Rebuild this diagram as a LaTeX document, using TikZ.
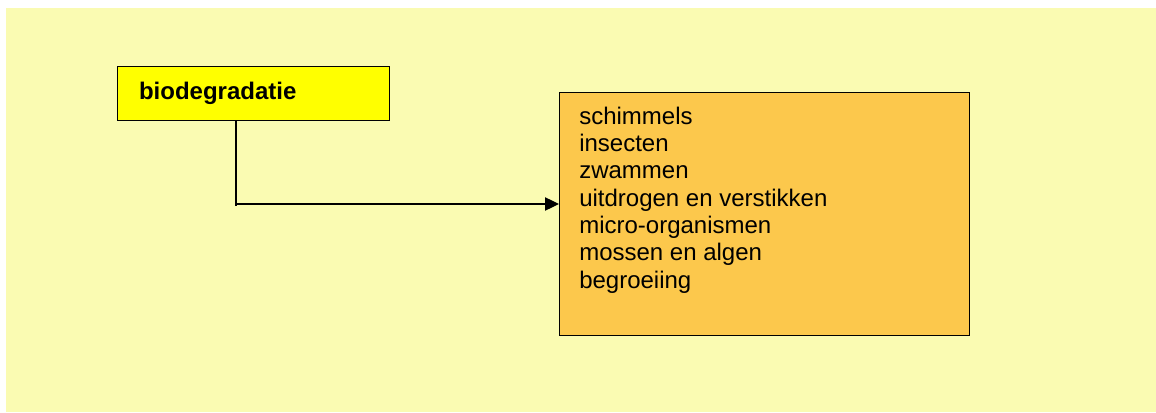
\documentclass[tikz,border=0pt]{standalone}
\usepackage{fontspec}
\setmainfont{Liberation Sans}
\usepackage{xcolor}
\usetikzlibrary{arrows.meta,positioning,calc}

\definecolor{achtergrond}{RGB}{250,251,178}
\definecolor{geel}{RGB}{255,255,0}
\definecolor{oranje}{RGB}{252,200,76}

\begin{document}
\begin{tikzpicture}[x=0.75pt,y=-0.75pt]
  \tikzstyle{vak}=[rectangle, draw, line width=1.1pt, inner sep=0pt]
  \tikzstyle{pijl}=[line width=0.9pt, -{Triangle[length=10.5pt,width=10pt]}]
  \tikzstyle{tekst}=[font=\fontsize{18}{20.5}\selectfont]

  % Afmetingen van de afbeelding
  \useasboundingbox (0,0) rectangle (1156,413);
  \fill[achtergrond] (6,8) rectangle (1156,412);

  % Oorzaak
  \node[vak, fill=geel, anchor=north west, minimum width=204pt, minimum height=40.5pt,
        text width=172pt, inner xsep=16pt, align=left,
        font=\fontsize{18}{20.5}\selectfont\bfseries] (oorzaak) at (117,66) {biodegradatie};

  % Gevolgen
  \node[vak, fill=oranje, anchor=north west, minimum width=307.5pt, minimum height=182pt] (gevolgen) at (559,92) {};
  \node[tekst, anchor=north west, align=left, inner sep=0pt] (lijst) at ([xshift=15pt,yshift=-11pt]gevolgen.north west)
    {schimmels\\insecten\\zwammen\\uitdrogen en verstikken\\micro-organismen\\mossen en algen\\begroeiing};

  % Verbinding
  \coordinate (knik) at (236,204);
  \draw[line width=0.9pt] (oorzaak.south -| knik) -- ([yshift=-1.5pt]knik);
  \draw[pijl] (knik) -- (gevolgen.west |- knik);
\end{tikzpicture}
\end{document}
